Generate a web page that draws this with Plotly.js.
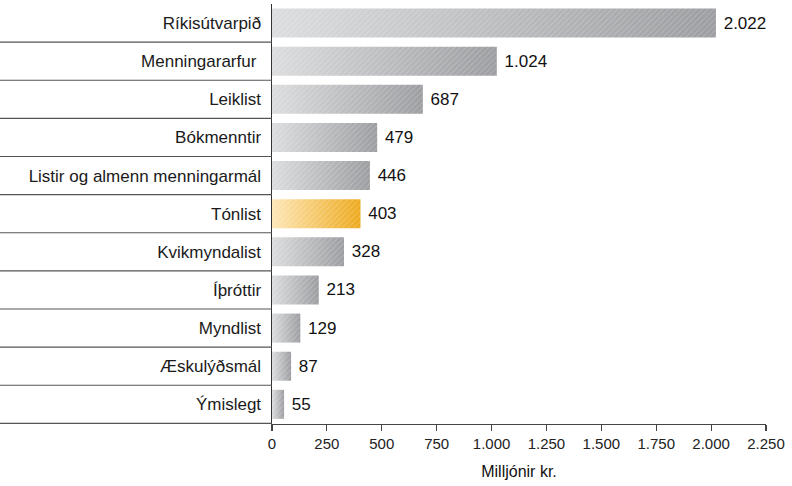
<!DOCTYPE html>
<html>
<head>
<meta charset="utf-8">
<script src="https://cdn.plot.ly/plotly-3.0.1.min.js"></script>
<style>
  html, body { margin: 0; padding: 0; background: #fff; }
  #chart { width: 792px; height: 486px; }
</style>
</head>
<body>
<div id="chart"></div>
<script>
// Data (top to bottom)
const categories = [
  "Ríkisútvarpið", "Menningararfur ", "Leiklist", "Bókmenntir",
  "Listir og almenn menningarmál", "Tónlist", "Kvikmyndalist",
  "Íþróttir", "Myndlist", "Æskulýðsmál", "Ýmislegt"
];
const values = [2022, 1024, 687, 479, 446, 403, 328, 213, 129, 87, 55];
const highlightCategory = "Tónlist";
const xTicks = [0, 250, 500, 750, 1000, 1250, 1500, 1750, 2000, 2250];
const xTitle = "Milljónir kr.";

const FONT = "'Liberation Sans', Arial, Helvetica, sans-serif";

// Base trace (gradient applied after render)
const baseTrace = {
  type: "bar", orientation: "h",
  x: values, y: categories,
  width: 0.76,
  marker: { color: categories.map(c => c === highlightCategory ? "#f6c866" : "#bdbfc1"), line: { width: 0 } },
  hoverinfo: "skip",
  showlegend: false
};
// Hatch overlay trace with value labels
const hatchTrace = {
  type: "bar", orientation: "h",
  x: values, y: categories,
  width: 0.76,
  marker: {
    color: "rgba(0,0,0,0)",
    line: { width: 0 },
    pattern: { shape: "/", fgcolor: "rgba(255,255,255,0.3)", bgcolor: "rgba(0,0,0,0)", size: 4, solidity: 0.22 }
  },
  texttemplate: "\u00a0%{x:,}",
  textposition: "outside",
  textfont: { family: FONT, size: 17, color: "#111" },
  cliponaxis: false,
  hoverinfo: "skip",
  showlegend: false
};

// Separator lines in the label column
const shapes = [];
for (let i = 0; i < categories.length; i++) {
  shapes.push({
    type: "line", xref: "paper", yref: "y",
    x0: -272 / 494, x1: 0, y0: i + 0.5, y1: i + 0.5,
    line: { color: "#555", width: 1.2 }
  });
}

const layout = {
  width: 792, height: 486,
  margin: { l: 272, r: 26, t: 4, b: 62 },
  paper_bgcolor: "#fff", plot_bgcolor: "#fff",
  separators: ",.",
  barmode: "overlay",
  font: { family: FONT, size: 14, color: "#222" },
  xaxis: {
    range: [0, 2250],
    tickvals: xTicks,
    tickformat: ",d",
    separatethousands: true,
    showgrid: false, zeroline: false,
    showline: true, linecolor: "#444", linewidth: 1.2,
    ticks: "outside", ticklen: 6, tickcolor: "#444", tickwidth: 1.2,
    tickfont: { family: FONT, size: 15, color: "#222" },
    title: { text: xTitle, font: { family: FONT, size: 16, color: "#111" }, standoff: 14 },
    fixedrange: true
  },
  yaxis: {
    type: "category",
    categoryorder: "array", categoryarray: categories,
    autorange: "reversed",
    showgrid: false, zeroline: false,
    showline: true, linecolor: "#333", linewidth: 1.5,
    ticks: "outside", ticklen: 6, tickcolor: "rgba(0,0,0,0)",
    tickfont: { family: FONT, size: 17, color: "#1a1a1a" },
    fixedrange: true
  },
  shapes: shapes,
  showlegend: false
};

function applyGradients(gd) {
  const svg = gd.querySelector(".main-svg");
  if (!svg) return;
  const NS = "http://www.w3.org/2000/svg";
  let defs = svg.querySelector("defs");
  if (!defs) { defs = document.createElementNS(NS, "defs"); svg.insertBefore(defs, svg.firstChild); }
  function grad(id, c1, c2) {
    if (svg.querySelector("#" + id)) return;
    const g = document.createElementNS(NS, "linearGradient");
    g.setAttribute("id", id);
    g.setAttribute("x1", "0"); g.setAttribute("x2", "1");
    g.setAttribute("y1", "0"); g.setAttribute("y2", "0");
    [[0, c1], [1, c2]].forEach(([o, c]) => {
      const s = document.createElementNS(NS, "stop");
      s.setAttribute("offset", o); s.setAttribute("stop-color", c);
      g.appendChild(s);
    });
    defs.appendChild(g);
  }
  grad("gradGray", "#dcdddf", "#9c9ea1");
  grad("gradGold", "#fde7b8", "#edaa1f");
  const traces = gd.querySelectorAll(".barlayer .trace.bars");
  if (!traces.length) return;
  const pts = traces[0].querySelectorAll(".point path");
  pts.forEach((p, i) => {
    const d = p.__data__;
    const idx = d && d.i !== undefined ? d.i : i;
    p.style.fill = categories[idx] === highlightCategory ? "url(#gradGold)" : "url(#gradGray)";
  });
}

Plotly.newPlot("chart", [baseTrace, hatchTrace], layout, { staticPlot: true, displayModeBar: false })
  .then(gd => {
    applyGradients(gd);
    gd.on("plotly_afterplot", () => applyGradients(gd));
  });
</script>
</body>
</html>
